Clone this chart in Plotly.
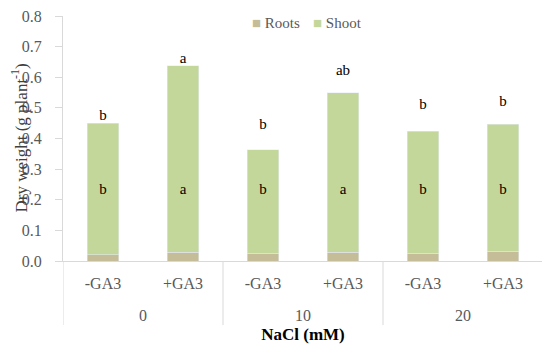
import plotly.graph_objects as go

nacl_groups = ["0", "10", "20"]
ga3 = ["-GA3", "+GA3", "-GA3", "+GA3", "-GA3", "+GA3"]
roots = [0.021, 0.029, 0.026, 0.029, 0.026, 0.032]
shoot = [0.429, 0.608, 0.337, 0.521, 0.397, 0.415]
top_letters = ["b", "a", "b", "ab", "b", "b"]
top_letter_y = [0.472, 0.658, 0.443, 0.618, 0.508, 0.517]
mid_letters = ["b", "a", "b", "a", "b", "b"]
mid_letter_y = [0.232] * 6
series_names = ["Roots", "Shoot"]
series_colors = ["#c4bd97", "#c4d79b"]

FONT = "Liberation Serif"
GRAY = "#595959"
LINE = "#d9d9d9"

xpos = list(range(len(ga3)))
per_group = len(ga3) // len(nacl_groups)

fig = go.Figure()
fig.add_trace(go.Bar(x=xpos, y=roots, name=series_names[0], marker_color=series_colors[0], showlegend=False))
fig.add_trace(go.Bar(x=xpos, y=shoot, name=series_names[1], marker_color=series_colors[1], showlegend=False))
fig.add_trace(go.Scatter(x=xpos, y=top_letter_y, mode="text", text=top_letters,
                         textfont=dict(family=FONT, size=15, color="black"),
                         showlegend=False, hoverinfo="skip"))
fig.add_trace(go.Scatter(x=xpos, y=mid_letter_y, mode="text", text=mid_letters,
                         textfont=dict(family=FONT, size=15, color="black"),
                         showlegend=False, hoverinfo="skip"))

# group labels and dividers
for gi, g in enumerate(nacl_groups):
    center = gi * per_group + (per_group - 1) / 2
    fig.add_annotation(x=center, xref="x", y=0, yref="paper", yanchor="middle",
                       yshift=-54, text=g, showarrow=False,
                       font=dict(family=FONT, size=16, color=GRAY))
for b in range(len(nacl_groups) + 1):
    xb = b * per_group - 0.5
    fig.add_shape(type="line", x0=xb, x1=xb, xref="x", y0=0, y1=-64 / 245, yref="paper",
                  line=dict(color=LINE, width=1))

# legend as text
legend_x = [(250 - 63) / 480, (311 - 63) / 480]
for name, col, lx in zip(series_names, series_colors, legend_x):
    fig.add_annotation(x=lx, xref="paper", xanchor="left", y=1 - 7 / 245, yref="paper",
                       yanchor="middle",
                       text=f"<span style='color:{col}'>■</span> {name}", showarrow=False,
                       font=dict(family=FONT, size=15, color=GRAY))

# y axis title
fig.add_annotation(x=(19 - 63) / 480, xref="paper", xanchor="center", y=0.5, yref="paper",
                   yanchor="middle", textangle=-90, showarrow=False,
                   text="Dry weight (g plant<sup>-1</sup>)",
                   font=dict(family=FONT, size=17, color="#404040"))

# page body has an 8px margin, so the figure is shrunk by that much
fig.update_layout(
    width=542, height=336,
    margin=dict(l=55, r=7, t=8, b=83),
    barmode="stack", bargap=0.61,
    plot_bgcolor="white", paper_bgcolor="white",
    font=dict(family=FONT, size=15, color=GRAY),
    showlegend=False,
    xaxis=dict(range=[-0.5, len(ga3) - 0.5], tickmode="array", tickvals=xpos, ticktext=ga3,
               showline=True, linecolor=LINE, linewidth=1, automargin=False,
               ticks="", ticklabelstandoff=8,
               tickfont=dict(family=FONT, size=16, color=GRAY),
               title=dict(text="<b>NaCl (mM)</b>", font=dict(family=FONT, size=17, color="black"),
                          standoff=52)),
    yaxis=dict(range=[0, 0.8], dtick=0.1, tickformat=".1f", showgrid=False,
               showline=True, linecolor=LINE, linewidth=1, ticks="outside",
               ticklen=7, tickcolor=LINE, zeroline=False, automargin=False,
               ticklabelstandoff=10, ticklabeloverflow="allow",
               tickfont=dict(family=FONT, size=16, color=GRAY)),
)

fig.write_html("out.html")
